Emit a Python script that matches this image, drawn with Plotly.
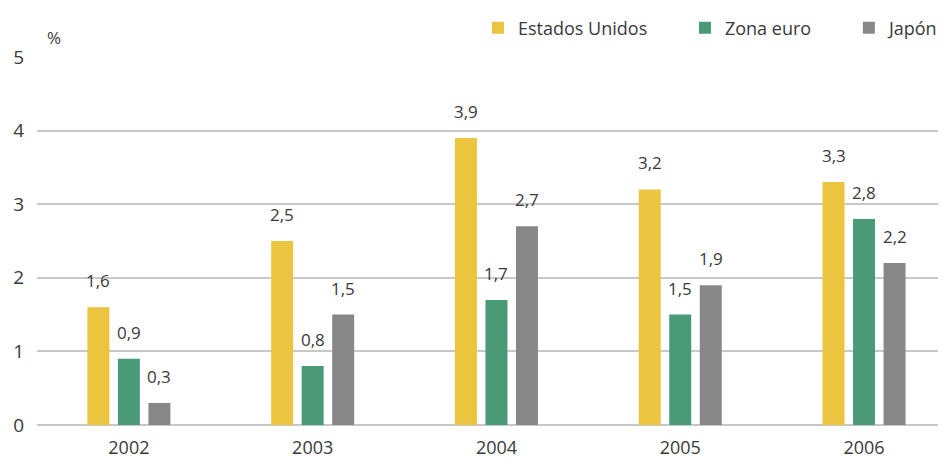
import plotly.graph_objects as go

years = ["2002", "2003", "2004", "2005", "2006"]
estados_unidos = [1.6, 2.5, 3.9, 3.2, 3.3]
zona_euro = [0.9, 0.8, 1.7, 1.5, 2.8]
japon = [0.3, 1.5, 2.7, 1.9, 2.2]
series_names = ["Estados Unidos", "Zona euro", "Japón"]
colors = ["#EBC53F", "#4A9A77", "#878787"]

def fmt(v):
    return f"{v:.1f}".replace(".", ",")

FONT = "Open Sans, DejaVu Sans, sans-serif"
W, H = 946, 459
fig = go.Figure()
all_series = [estados_unidos, zona_euro, japon]
for k, (name, vals, col) in enumerate(zip(series_names, all_series, colors)):
    pad = "\u00a0" * 7 if k < len(series_names) - 1 else ""
    fig.add_trace(go.Bar(name=name + pad, x=years, y=vals, marker_color=col,
                         marker_line_width=0))

shifts = [-30.5, 0, 30.5]
for vals, sh in zip(all_series, shifts):
    for i, v in enumerate(vals):
        fig.add_annotation(x=i, y=v, text=fmt(v), showarrow=False,
                           xref="x", yref="y", xshift=sh, yshift=13,
                           yanchor="bottom",
                           font=dict(size=17, color="#3a3a3a", family=FONT))

fig.add_annotation(x=0, y=5, xref="paper", yref="y", text="%", showarrow=False,
                   xshift=8, yshift=6, xanchor="left", yanchor="bottom",
                   font=dict(size=17, color="#3a3a3a", family=FONT))

fig.update_layout(
    width=W, height=H,
    margin=dict(l=29, r=8, t=49, b=42, autoexpand=False),
    paper_bgcolor="white", plot_bgcolor="white",
    barmode="group", bargap=0.502, bargroupgap=0.28,
    font=dict(family=FONT, size=16, color="#3a3a3a"),
    showlegend=True,
    legend=dict(orientation="h", x=470 / W, xanchor="left", y=1 - 20 / H, yanchor="middle",
                yref="container", xref="container",
                font=dict(size=18, color="#3a3a3a", family=FONT),
                itemwidth=30, traceorder="normal", bgcolor="rgba(0,0,0,0)"),
    xaxis=dict(type="category", range=[-0.5, 4.446], showgrid=False, showline=False, ticks="",
               ticklabelstandoff=10,
               tickfont=dict(size=18, color="#3a3a3a", family=FONT)),
    yaxis=dict(range=[0, 5], dtick=1, showgrid=True, gridcolor="#C8C8C8",
               gridwidth=1.5, zeroline=True, zerolinecolor="#C8C8C8",
               zerolinewidth=1.5, showline=False, ticks="", ticklabelstandoff=12,
               tickfont=dict(size=19, color="#3a3a3a", family=FONT)),
)
fig.write_html("out.html")
